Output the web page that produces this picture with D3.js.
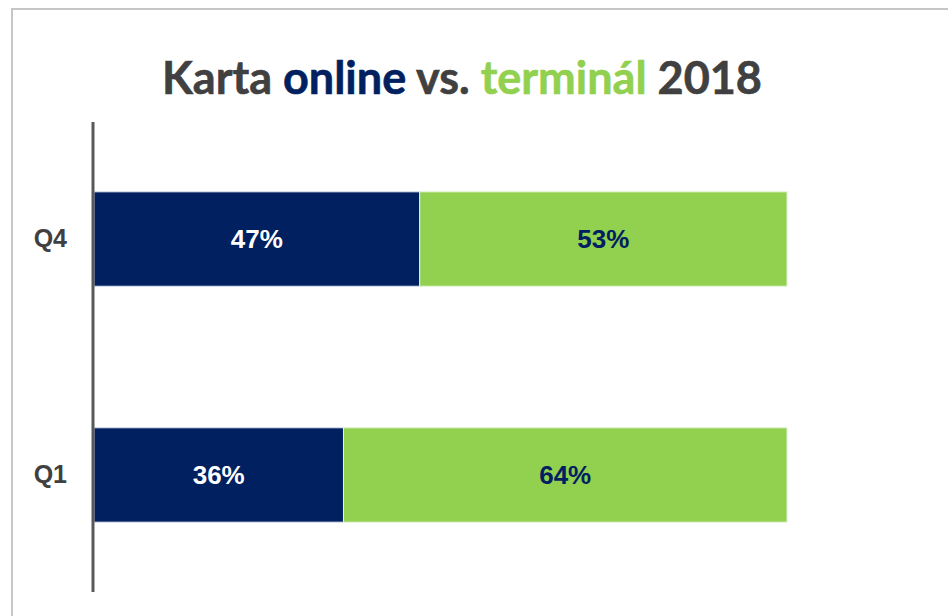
<!DOCTYPE html>
<html>
<head>
<meta charset="utf-8">
<title>Karta online vs. terminál 2018</title>
<style>
  body { margin: 0; background: #fff; }
  svg { display: block; }
</style>
</head>
<body>
<script src="https://cdn.jsdelivr.net/npm/d3@7"></script>
<script>
var quarters = ["Q4", "Q1"];
var online   = [47, 36];
var terminal = [53, 64];

var width = 948, height = 616;
var navy = "#002060", green = "#92d050";

var svg = d3.select("body").append("svg")
    .attr("width", width)
    .attr("height", height);

// outer frame
svg.append("rect")
    .attr("x", 12).attr("y", 9)
    .attr("width", width).attr("height", height)
    .attr("fill", "none")
    .attr("stroke", "#c6c6c6")
    .attr("stroke-width", 2);

// title
var title = svg.append("text")
    .attr("x", 462).attr("y", 94)
    .attr("text-anchor", "middle")
    .attr("font-family", "Lato, 'Open Sans', sans-serif")
    .attr("font-weight", "bold")
    .attr("font-size", 45)
    .attr("fill", "#404040")
    .attr("stroke", "currentColor")
    .attr("stroke-width", 0.6);
title.append("tspan").text("Karta ");
title.append("tspan").attr("fill", navy).attr("stroke", navy).text("online");
title.append("tspan").text(" vs. ");
title.append("tspan").attr("fill", green).attr("stroke", green).text("terminál");
title.append("tspan").text(" 2018");
title.attr("stroke", "#404040");

var x = d3.scaleLinear().domain([0, 100]).range([94, 787]);
var y = d3.scaleBand().domain(quarters).range([122, 592])
    .paddingInner(0.6).paddingOuter(0.296);

var rows = quarters.map(function(q, i) {
    return { q: q, online: online[i], terminal: terminal[i] };
});

var g = svg.selectAll("g.row").data(rows).enter().append("g")
    .attr("class", "row");

g.append("rect")
    .attr("x", function(d) { return x(0); })
    .attr("y", function(d) { return y(d.q); })
    .attr("width", function(d) { return x(d.online) - x(0); })
    .attr("height", y.bandwidth())
    .attr("fill", navy)
    .attr("stroke", "#d9e2ef")
    .attr("stroke-width", 1);

g.append("rect")
    .attr("x", function(d) { return x(d.online); })
    .attr("y", function(d) { return y(d.q); })
    .attr("width", function(d) { return x(d.online + d.terminal) - x(d.online); })
    .attr("height", y.bandwidth())
    .attr("fill", green)
    .attr("stroke", "#e2f3d3")
    .attr("stroke-width", 1);

g.append("text")
    .attr("x", function(d) { return (x(0) + x(d.online)) / 2; })
    .attr("y", function(d) { return y(d.q) + y.bandwidth() / 2; })
    .attr("dy", "0.36em")
    .attr("text-anchor", "middle")
    .attr("font-family", "'Liberation Sans', Arial, sans-serif")
    .attr("font-weight", "bold")
    .attr("font-size", 26)
    .attr("fill", "#fff")
    .text(function(d) { return d.online + "%"; });

g.append("text")
    .attr("x", function(d) { return (x(d.online) + x(d.online + d.terminal)) / 2; })
    .attr("y", function(d) { return y(d.q) + y.bandwidth() / 2; })
    .attr("dy", "0.36em")
    .attr("text-anchor", "middle")
    .attr("font-family", "'Liberation Sans', Arial, sans-serif")
    .attr("font-weight", "bold")
    .attr("font-size", 26)
    .attr("fill", navy)
    .text(function(d) { return d.terminal + "%"; });

// category axis
var axis = svg.append("g")
    .attr("transform", "translate(93,0)")
    .call(d3.axisLeft(y).tickSize(0).tickPadding(26));
axis.select(".domain")
    .attr("d", "M0,122V592")
    .attr("stroke", "#595959")
    .attr("stroke-width", 3);
axis.selectAll("text")
    .attr("font-family", "'Liberation Sans', Arial, sans-serif")
    .attr("font-weight", "bold")
    .attr("font-size", 25)
    .attr("fill", "#404040");
</script>
</body>
</html>
